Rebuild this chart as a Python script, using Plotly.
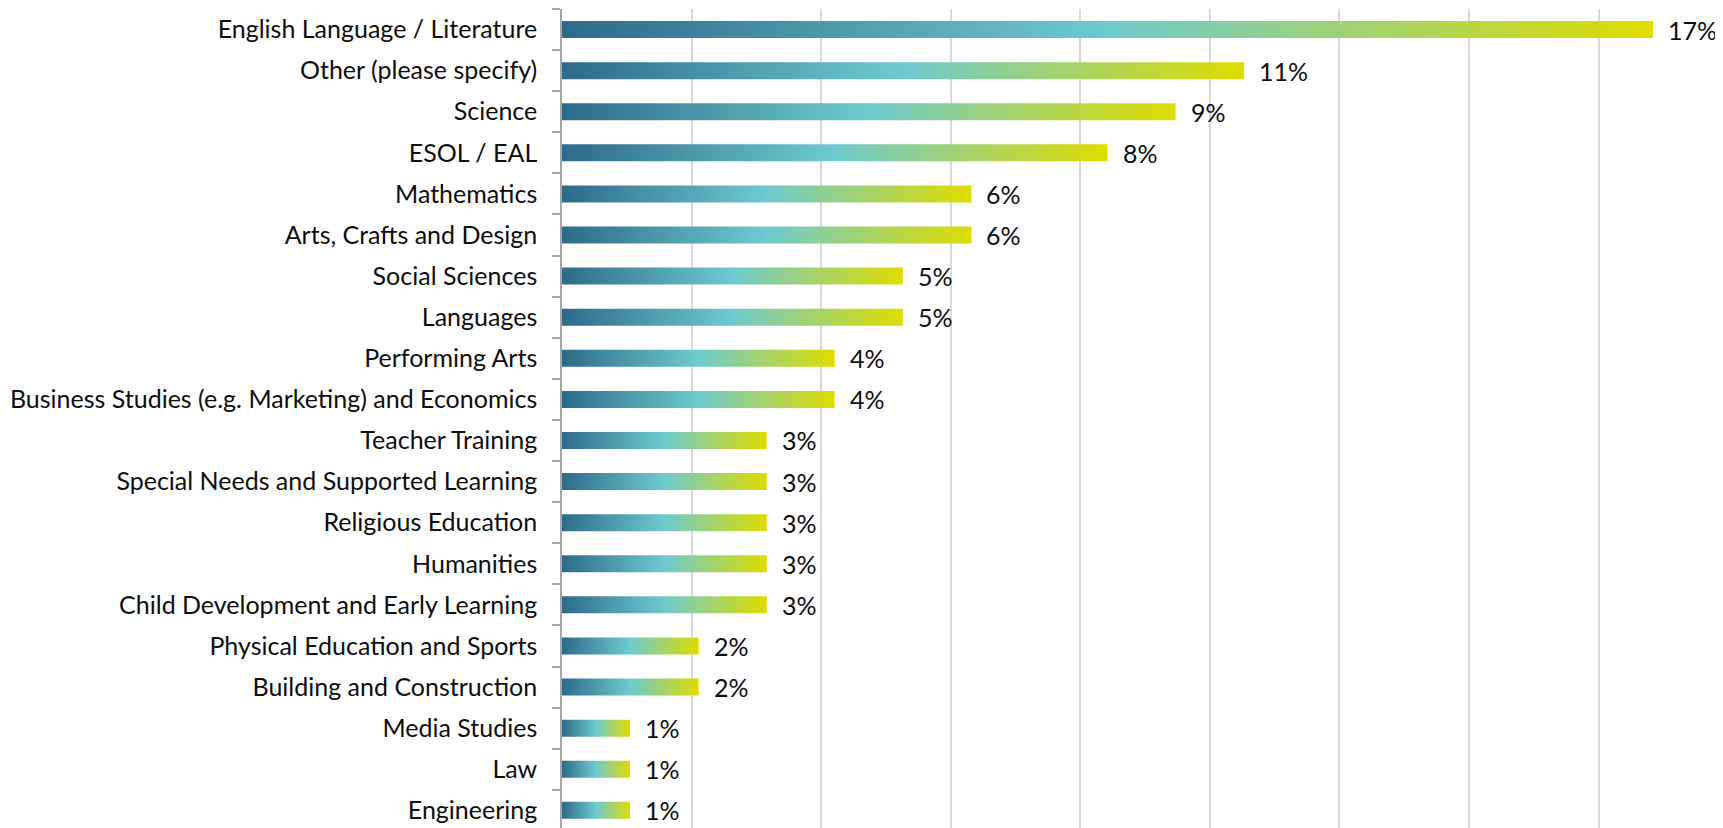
import plotly.graph_objects as go

categories = [
    "English Language / Literature",
    "Other (please specify)",
    "Science",
    "ESOL / EAL",
    "Mathematics",
    "Arts, Crafts and Design",
    "Social Sciences",
    "Languages",
    "Performing Arts",
    "Business Studies (e.g. Marketing) and Economics",
    "Teacher Training",
    "Special Needs and Supported Learning",
    "Religious Education",
    "Humanities",
    "Child Development and Early Learning",
    "Physical Education and Sports",
    "Building and Construction",
    "Media Studies",
    "Law",
    "Engineering",
]
values_pct = [16.84, 10.53, 9.47, 8.42, 6.32, 6.32, 5.26, 5.26, 4.21, 4.21,
              3.16, 3.16, 3.16, 3.16, 3.16, 2.11, 2.11, 1.05, 1.05, 1.05]
x_gridlines_pct = [2, 4, 6, 8, 10, 12, 14, 16]

FONT = "Lato"
FS = 25
HALF = 0.207
gradient = [[0.0, "#2D6A8B"], [0.5, "#6ECACF"], [1.0, "#DFDC00"]]

fig = go.Figure()
n = len(categories)
pos = list(range(n))
for i, (c, v) in enumerate(zip(categories, values_pct)):
    fig.add_trace(go.Scatter(
        x=[0, v, v, 0, 0],
        y=[i - HALF, i - HALF, i + HALF, i + HALF, i - HALF],
        mode="none", fill="toself",
        fillgradient=dict(type="horizontal", colorscale=gradient),
        name=c, showlegend=False, hoverinfo="skip",
    ))
    fig.add_annotation(x=v, y=i, text=f"{v:.0f}%", showarrow=False,
                       xanchor="left", yanchor="middle", xshift=13,
                       font=dict(family=FONT, size=FS, color="#0d0d0d"))

# page body has an 8px margin, so the figure is sized to fill the rest
fig.update_layout(
    width=1715, height=820,
    margin=dict(l=554, r=0, t=1, b=0),
    paper_bgcolor="white", plot_bgcolor="white",
    font=dict(family=FONT, size=FS, color="#0d0d0d"),
    showlegend=False,
)
fig.update_xaxes(
    range=[0, 17.92], tickmode="array", tickvals=x_gridlines_pct,
    showticklabels=False, ticks="", showgrid=True,
    gridcolor="#d9d9d9", gridwidth=1.5, zeroline=False, showline=False,
)
fig.update_yaxes(
    range=[19.43, -0.5], tickmode="array", tickvals=pos, ticktext=categories,
    ticks="", showgrid=False, zeroline=False,
    showline=True, linecolor="#a6a6a6", linewidth=1.5,
    ticklabelstandoff=18,
    minor=dict(tickmode="array", tickvals=[p - 0.5 for p in pos],
               ticks="outside", ticklen=8, tickcolor="#a6a6a6", tickwidth=1.5,
               showgrid=False),
    tickfont=dict(family=FONT, size=FS, color="#0d0d0d"),
)

fig.write_html("out.html")
